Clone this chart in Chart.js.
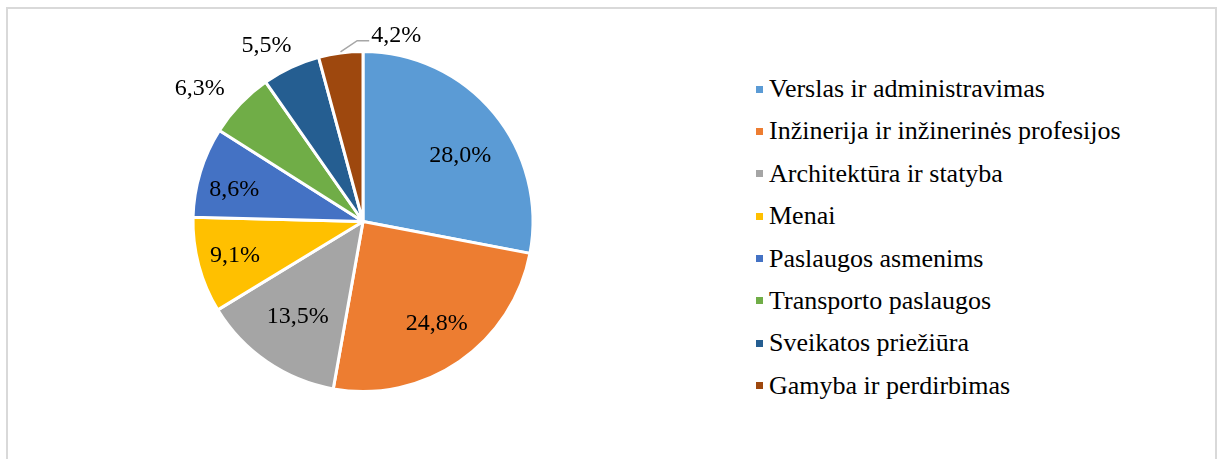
<!DOCTYPE html>
<html>
<head>
<meta charset="utf-8">
<script src="https://cdn.jsdelivr.net/npm/chart.js@4/dist/chart.umd.min.js"></script>
<style>
  html, body { margin: 0; padding: 0; background: #fff; }
  #wrap { position: relative; width: 1219px; height: 459px; overflow: hidden; }
  #frame {
    position: absolute; left: 6px; top: 7px; width: 1207px; height: 470px;
    border: 2px solid #d9d9d9;
  }
  #pieBox { position: absolute; left: 0; top: 0; width: 726px; height: 443px; }
  #legend {
    position: absolute; left: 756px; top: 68px; margin: 0; padding: 0; list-style: none;
    font-family: "Liberation Serif", "Times New Roman", serif; font-size: 26px; color: #000;
  }
  #legend li { height: 42.4px; line-height: 42.4px; white-space: nowrap; }
  #legend span.box {
    display: inline-block; width: 7px; height: 7px; margin-right: 6px; vertical-align: middle;
    position: relative; top: -2px;
  }
</style>
</head>
<body>
<div id="wrap">
  <div id="frame"></div>
  <div id="pieBox"><canvas id="pie"></canvas></div>
  <ul id="legend"></ul>
</div>
<script>
const categories = [
  'Verslas ir administravimas',
  'Inžinerija ir inžinerinės profesijos',
  'Architektūra ir statyba',
  'Menai',
  'Paslaugos asmenims',
  'Transporto paslaugos',
  'Sveikatos priežiūra',
  'Gamyba ir perdirbimas',
];
const shares = [28.0, 24.8, 13.5, 9.1, 8.6, 6.3, 5.5, 4.2];
const colors = ['#5B9BD5', '#ED7D31', '#A5A5A5', '#FFC000', '#4472C4', '#70AD47', '#255E91', '#9E480E'];

// label placement: [fraction along slice angle, fraction of radius]
const labelPlace = [
  [0.555, 0.69], [0.485, 0.74], [0.5, 0.68], [0.5, 0.78],
  [0.4, 0.78], [0.3, 1.24], [0.31, 1.18], [1.67, 1.11],
];
const leaderFor = [7];

const FONT = '"Liberation Serif", "Times New Roman", serif';

//Value labels
const pieLabels = {
  id: 'pieLabels',
  afterDatasetsDraw(chart) {
    const ctx = chart.ctx;
    const meta = chart.getDatasetMeta(0);
    ctx.save();
    ctx.font = '24px ' + FONT;
    ctx.fillStyle = '#000';
    ctx.textAlign = 'center';
    ctx.textBaseline = 'middle';
    meta.data.forEach((arc, i) => {
      const p = arc.getProps(['x', 'y', 'startAngle', 'endAngle', 'outerRadius'], true);
      const [f, rf] = labelPlace[i];
      const a = p.startAngle + f * (p.endAngle - p.startAngle);
      const r = p.outerRadius * rf;
      const lx = p.x + Math.cos(a) * r;
      const ly = p.y + Math.sin(a) * r;
      const txt = shares[i].toFixed(1).replace('.', ',') + '%';
      ctx.fillText(txt, lx, ly);
      if (leaderFor.includes(i)) {
        const mid = (p.startAngle + p.endAngle) / 2;
        const left = lx - ctx.measureText(txt).width / 2;
        ctx.strokeStyle = '#a6a6a6';
        ctx.lineWidth = 1.5;
        ctx.beginPath();
        ctx.moveTo(p.x + Math.cos(mid) * (p.outerRadius + 1), p.y + Math.sin(mid) * (p.outerRadius + 1));
        ctx.lineTo(left - 14, ly + 5);
        ctx.lineTo(left - 2, ly + 5);
        ctx.stroke();
      }
    });
    ctx.restore();
  },
};

new Chart(document.getElementById('pie'), {
  type: 'pie',
  data: {
    labels: categories,
    datasets: [
      {
        data: shares,
        backgroundColor: colors,
        borderColor: '#ffffff',
        borderWidth: 3,
      },
    ],
  },
  options: {
    responsive: true,
    maintainAspectRatio: false,
    animation: false,
    radius: 170,
    layout: { padding: 0 },
    plugins: {
      legend: { display: false },
      tooltip: { enabled: false },
    },
  },
  plugins: [pieLabels],
});

//Legend
const legendEl = document.getElementById('legend');
categories.forEach((c, i) => {
  const li = document.createElement('li');
  li.innerHTML = `<span class="box" style="background:${colors[i]}"></span>${c}`;
  legendEl.appendChild(li);
});
</script>
</body>
</html>
